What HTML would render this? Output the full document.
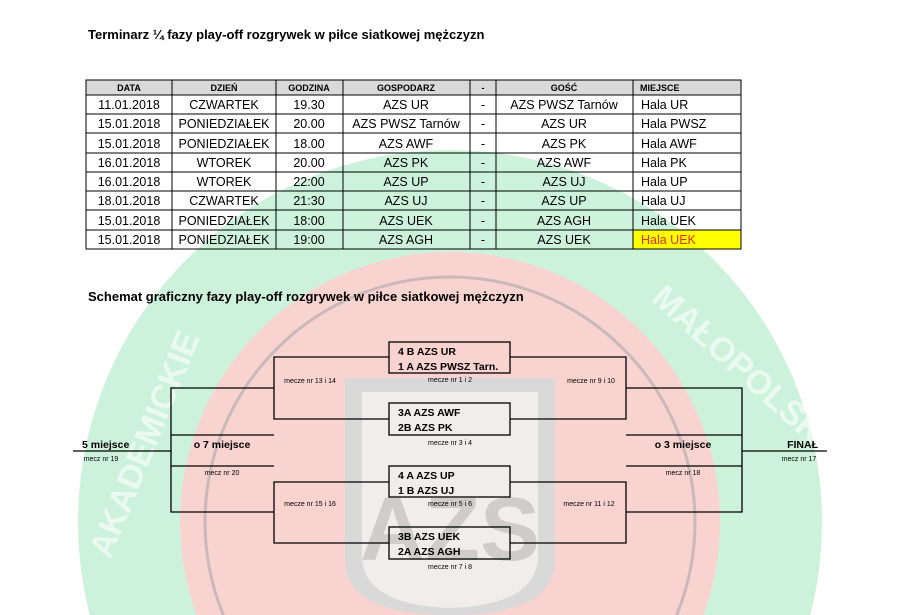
<!DOCTYPE html>
<html><head><meta charset="utf-8"><style>
html,body{margin:0;background:#fff;width:900px;height:615px;overflow:hidden;}
svg{display:block;font-family:"Liberation Sans",sans-serif;}
</style></head><body>
<svg width="900" height="615" viewBox="0 0 900 615" xmlns="http://www.w3.org/2000/svg">
<circle cx="450" cy="522" r="372" fill="#cdf2dc"/>
<circle cx="450" cy="522" r="270" fill="#f9d3cf"/>
<circle cx="450" cy="522" r="245" fill="none" stroke="#c9b9b9" stroke-width="3"/>
<g fill="#ffffff" opacity="0.6" font-weight="bold" font-size="34">
<text x="110" y="560" transform="rotate(-68 110 560)">AKADEMICKIE</text>
<text x="650" y="300" transform="rotate(42 650 300)">MAŁOPOLSKI</text>
</g>
<path d="M345 378 H555 V560 Q555 615 450 615 Q345 615 345 560 Z" fill="#d9d9d9"/>
<path d="M362 392 H538 V555 Q538 605 450 608 Q362 605 362 555 Z" fill="#f2eded"/>
<text x="450" y="560" text-anchor="middle" font-size="90" font-weight="bold" fill="#d0cccc">AZS</text>
<text x="88" y="39" font-size="13" font-weight="bold" fill="#000">Terminarz ¼ fazy play-off rozgrywek w piłce siatkowej mężczyzn</text>
<rect x="86" y="80" width="655" height="15" fill="#d9d9d9"/>
<rect x="633" y="230" width="108" height="19" fill="#ffff00"/>
<g stroke="#000" stroke-width="1" fill="none">
<rect x="86" y="80" width="655" height="169"/>
<line x1="86" y1="95" x2="741" y2="95"/>
<line x1="86" y1="114" x2="741" y2="114"/>
<line x1="86" y1="133" x2="741" y2="133"/>
<line x1="86" y1="153" x2="741" y2="153"/>
<line x1="86" y1="172" x2="741" y2="172"/>
<line x1="86" y1="191" x2="741" y2="191"/>
<line x1="86" y1="210" x2="741" y2="210"/>
<line x1="86" y1="230" x2="741" y2="230"/>
<line x1="172" y1="80" x2="172" y2="249"/>
<line x1="276" y1="80" x2="276" y2="249"/>
<line x1="343" y1="80" x2="343" y2="249"/>
<line x1="470" y1="80" x2="470" y2="249"/>
<line x1="496" y1="80" x2="496" y2="249"/>
<line x1="633" y1="80" x2="633" y2="249"/>
</g>
<g font-size="9" font-weight="bold" text-anchor="middle">
<text x="129" y="91">DATA</text><text x="224" y="91">DZIEŃ</text><text x="309" y="91">GODZINA</text>
<text x="406" y="91">GOSPODARZ</text><text x="483" y="91">-</text><text x="564" y="91">GOŚĆ</text>
<text x="640" y="91" text-anchor="start">MIEJSCE</text>
</g>
<g font-size="12.5" text-anchor="middle">
<text x="129" y="109">11.01.2018</text><text x="224" y="109">CZWARTEK</text><text x="309" y="109">19.30</text><text x="406" y="109">AZS UR</text><text x="483" y="109">-</text><text x="564" y="109">AZS PWSZ Tarnów</text><text x="641" y="109" text-anchor="start">Hala UR</text>
<text x="129" y="128">15.01.2018</text><text x="224" y="128">PONIEDZIAŁEK</text><text x="309" y="128">20.00</text><text x="406" y="128">AZS PWSZ Tarnów</text><text x="483" y="128">-</text><text x="564" y="128">AZS UR</text><text x="641" y="128" text-anchor="start">Hala PWSZ</text>
<text x="129" y="148">15.01.2018</text><text x="224" y="148">PONIEDZIAŁEK</text><text x="309" y="148">18.00</text><text x="406" y="148">AZS AWF</text><text x="483" y="148">-</text><text x="564" y="148">AZS PK</text><text x="641" y="148" text-anchor="start">Hala AWF</text>
<text x="129" y="167">16.01.2018</text><text x="224" y="167">WTOREK</text><text x="309" y="167">20.00</text><text x="406" y="167">AZS PK</text><text x="483" y="167">-</text><text x="564" y="167">AZS AWF</text><text x="641" y="167" text-anchor="start">Hala PK</text>
<text x="129" y="186">16.01.2018</text><text x="224" y="186">WTOREK</text><text x="309" y="186">22:00</text><text x="406" y="186">AZS UP</text><text x="483" y="186">-</text><text x="564" y="186">AZS UJ</text><text x="641" y="186" text-anchor="start">Hala UP</text>
<text x="129" y="205">18.01.2018</text><text x="224" y="205">CZWARTEK</text><text x="309" y="205">21:30</text><text x="406" y="205">AZS UJ</text><text x="483" y="205">-</text><text x="564" y="205">AZS UP</text><text x="641" y="205" text-anchor="start">Hala UJ</text>
<text x="129" y="225">15.01.2018</text><text x="224" y="225">PONIEDZIAŁEK</text><text x="309" y="225">18:00</text><text x="406" y="225">AZS UEK</text><text x="483" y="225">-</text><text x="564" y="225">AZS AGH</text><text x="641" y="225" text-anchor="start">Hala UEK</text>
<text x="129" y="244">15.01.2018</text><text x="224" y="244">PONIEDZIAŁEK</text><text x="309" y="244">19:00</text><text x="406" y="244">AZS AGH</text><text x="483" y="244">-</text><text x="564" y="244">AZS UEK</text><text x="641" y="244" text-anchor="start" fill="#e03020">Hala UEK</text>
</g>
<text x="88" y="301" font-size="13" font-weight="bold">Schemat graficzny fazy play-off rozgrywek w piłce siatkowej mężczyzn</text>
<g stroke="#000" stroke-width="1.3" fill="none">
<rect x="389" y="342" width="121" height="31"/>
<rect x="389" y="403" width="121" height="32"/>
<rect x="389" y="466" width="121" height="31"/>
<rect x="389" y="527" width="121" height="32"/>
<polyline points="389,357 274,357 274,419 389,419"/>
<polyline points="389,482 274,482 274,543 389,543"/>
<polyline points="274,388 171,388 171,512 274,512"/>
<line x1="171" y1="435" x2="274" y2="435"/><line x1="171" y1="466" x2="274" y2="466"/>
<line x1="73" y1="451" x2="171" y2="451"/>
<polyline points="510,357 626,357 626,419 510,419"/>
<polyline points="510,482 626,482 626,543 510,543"/>
<polyline points="626,388 742,388 742,512 626,512"/>
<line x1="626" y1="435" x2="742" y2="435"/><line x1="626" y1="466" x2="742" y2="466"/>
<line x1="742" y1="451" x2="827" y2="451"/>
</g>
<g font-size="10.5" font-weight="bold">
<text x="398" y="355">4 B  AZS UR</text><text x="398" y="370">1 A  AZS PWSZ Tarn.</text>
<text x="398" y="416">3A  AZS AWF</text><text x="398" y="431">2B  AZS PK</text>
<text x="398" y="479">4 A  AZS UP</text><text x="398" y="494">1 B  AZS UJ</text>
<text x="398" y="540">3B  AZS UEK</text><text x="398" y="555">2A  AZS AGH</text>
<text x="82" y="448">5 miejsce</text>
<text x="222" y="448" text-anchor="middle">o 7 miejsce</text>
<text x="683" y="448" text-anchor="middle">o 3 miejsce</text>
<text x="818" y="448" text-anchor="end">FINAŁ</text>
</g>
<g font-size="7" text-anchor="middle">
<text x="450" y="382">mecze nr 1 i 2</text><text x="450" y="445">mecze nr 3 i 4</text>
<text x="450" y="506">mecze nr 5 i 6</text><text x="450" y="569">mecze nr 7 i 8</text>
<text x="310" y="383">mecze nr 13 i 14</text><text x="310" y="506">mecze nr 15 i 16</text>
<text x="591" y="383">mecze nr 9 i 10</text><text x="589" y="506">mecze nr 11 i 12</text>
<text x="222" y="475">mecz nr 20</text><text x="683" y="475">mecz nr 18</text>
<text x="101" y="461">mecz nr 19</text><text x="799" y="461">mecz nr 17</text>
</g>
</svg>
</body></html>
